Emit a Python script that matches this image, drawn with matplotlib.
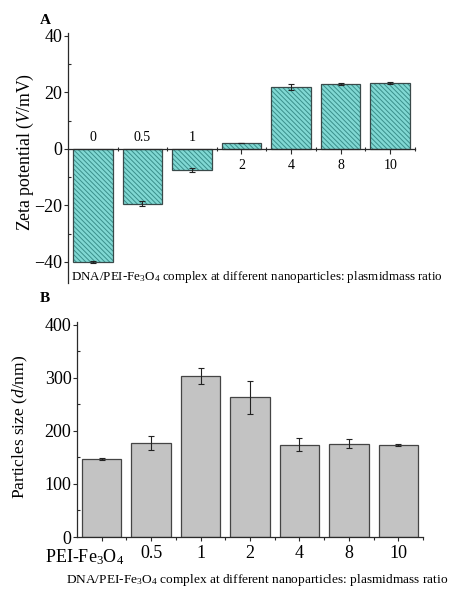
import matplotlib
matplotlib.use('Agg')
import matplotlib.pyplot as plt
from matplotlib.ticker import MultipleLocator, FixedLocator
from matplotlib.transforms import offset_copy, ScaledTranslation

plt.rcParams['font.family'] = ['Liberation Serif', 'DejaVu Serif']
plt.rcParams['mathtext.fontset'] = 'custom'
plt.rcParams['mathtext.rm'] = 'Liberation Serif'
plt.rcParams['mathtext.it'] = 'Liberation Serif:italic'
plt.rcParams['hatch.linewidth'] = 0.7

# panel A: zeta potential
ratios_a = ['0', '0.5', '1', '2', '4', '8', '10']
zeta = [-40.0, -19.4, -7.5, 2.0, 21.8, 23.0, 23.3]
zeta_err = [0.3, 0.8, 0.7, 0.0, 1.1, 0.3, 0.5]

# panel B: particle size
ratios_b = ['PEI-Fe$_3$O$_4$', '0.5', '1', '2', '4', '8', '10']
size = [147, 177, 303, 263, 174, 176, 173]
size_err = [1.5, 13, 15, 31, 12, 9, 2]

xlabel = 'DNA/PEI-Fe$_3$O$_4$ complex at different nanoparticles: plasmidmass ratio'
axcol = '#2a2a2a'

fig = plt.figure(figsize=(4.52, 5.91), dpi=100)

# ---------- A ----------
axA = fig.add_axes([68/452, 1-283/591, 347/452, 250/591])
xa = list(range(len(zeta)))
axA.bar(xa, zeta, width=0.8, color='#80d8d3', edgecolor='#3a8f8b',
        hatch='\\' * 7, linewidth=0, zorder=2)
axA.bar(xa, zeta, width=0.8, fill=False, edgecolor='#3a4a4a', linewidth=0.9, zorder=3)
axA.errorbar(xa, zeta, yerr=zeta_err, fmt='none', ecolor='#222222',
             elinewidth=0.8, capsize=2, capthick=0.8, zorder=4)
axA.set_xlim(-0.5, 6.5)
axA.set_ylim(-47.5, 41)
for s in ['top', 'right']:
    axA.spines[s].set_visible(False)
axA.spines['bottom'].set_position(('data', 0))
for s in ['left', 'bottom']:
    axA.spines[s].set_color(axcol)
    axA.spines[s].set_linewidth(0.9)
axA.spines['bottom'].set_zorder(5)
axA.set_yticks([-40, -20, 0, 20, 40])
axA.yaxis.set_minor_locator(MultipleLocator(10))
axA.set_xticks(xa)
axA.set_xticklabels([])
axA.xaxis.set_minor_locator(FixedLocator([i + 0.5 for i in xa]))
axA.tick_params(axis='y', which='major', direction='out', length=3, width=0.8,
                color=axcol, labelsize=13, pad=1)
axA.tick_params(axis='y', which='minor', direction='in', length=2.5, width=0.8, color=axcol)
axA.tick_params(axis='x', which='major', direction='out', length=3.5, width=0.8, color=axcol)
axA.tick_params(axis='x', which='minor', direction='inout', length=3, width=0.8, color=axcol)
for i, (lab, v) in enumerate(zip(ratios_a, zeta)):
    if v < 0:
        tr = offset_copy(axA.transData, fig=fig, x=0, y=11, units='dots')
    else:
        tr = offset_copy(axA.transData, fig=fig, x=0, y=-17, units='dots')
    axA.text(i, 0, lab, transform=tr, ha='center', va='center', fontsize=10)

fig.text(40/452, 1-20/591, 'A', fontsize=11, fontweight='bold', ha='left', va='center')
fig.text(25/452, 1-152/591, 'Zeta potential ($\\mathit{V}$/mV)', rotation=90,
         ha='center', va='center', fontsize=12.8)
fig.text(71/452, 1-277/591, xlabel, ha='left', va='center', fontsize=9.4)

# ---------- B ----------
axB = fig.add_axes([77/452, 1-537/591, 346/452, 215/591])
xb = list(range(len(size)))
axB.bar(xb, size, width=0.8, color='#c3c3c3', edgecolor='#444444', linewidth=0.9, zorder=2)
axB.errorbar(xb, size, yerr=size_err, fmt='none', ecolor='#222222',
             elinewidth=0.8, capsize=2, capthick=0.8, zorder=4)
axB.set_xlim(-0.5, 6.5)
axB.set_ylim(0, 405)
for s in ['top', 'right']:
    axB.spines[s].set_visible(False)
for s in ['left', 'bottom']:
    axB.spines[s].set_color(axcol)
    axB.spines[s].set_linewidth(0.9)
    axB.spines[s].set_zorder(5)
axB.set_yticks([0, 100, 200, 300, 400])
axB.yaxis.set_minor_locator(MultipleLocator(50))
axB.set_xticks(xb)
axB.set_xticklabels(ratios_b)
axB.xaxis.set_minor_locator(FixedLocator([i + 0.5 for i in xb]))
axB.tick_params(axis='y', which='major', direction='out', length=3, width=0.8,
                color=axcol, labelsize=13, pad=1)
axB.tick_params(axis='y', which='minor', direction='in', length=2.5, width=0.8, color=axcol)
axB.tick_params(axis='x', which='major', direction='out', length=3, width=0.8,
                color=axcol, labelsize=13, pad=3)
axB.tick_params(axis='x', which='minor', direction='out', length=2.5, width=0.8, color=axcol)
first = axB.get_xticklabels()[0]
first.set_transform(first.get_transform() + ScaledTranslation(-0.17, -0.015, fig.dpi_scale_trans))

fig.text(40/452, 1-298/591, 'B', fontsize=11, fontweight='bold', ha='left', va='center')
fig.text(20/452, 1-427/591, 'Particles size ($\\mathit{d}$/nm)', rotation=90,
         ha='center', va='center', fontsize=12.5)
fig.text(257/452, 1-580/591, xlabel, ha='center', va='center', fontsize=9.6)

fig.savefig('out.png', dpi=100)
